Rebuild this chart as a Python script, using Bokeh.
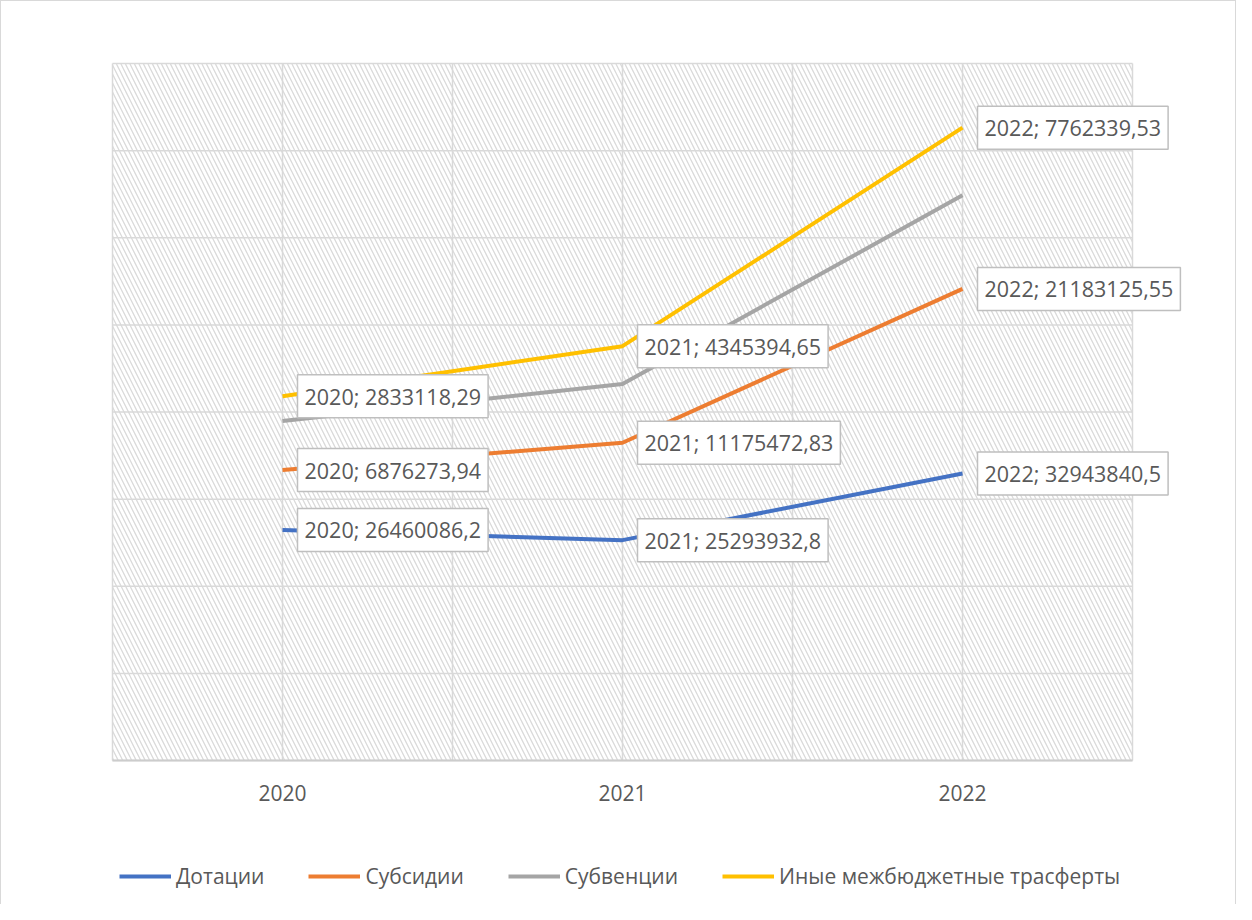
from bokeh.plotting import figure
from bokeh.models import (Range1d, Label, Legend, LegendItem, ColumnDataSource)
from bokeh.embed import file_html
from bokeh.resources import INLINE

years = ["2020", "2021", "2022"]
dotacii = [26460086.2, 25293932.8, 32943840.5]
subsidii = [6876273.94, 11175472.83, 21183125.55]
subvencii = [5630000.0, 6740000.0, 10750000.0]
inye = [2833118.29, 4345394.65, 7762339.53]
series_names = ["Дотации", "Субсидии", "Субвенции", "Иные межбюджетные трасферты"]
colors = ["#4472C4", "#ED7D31", "#A5A5A5", "#FFC000"]
labelled = [True, True, False, True]
y_ticks = [0, 10e6, 20e6, 30e6, 40e6, 50e6, 60e6, 70e6, 80e6]
x_grid = [-0.5, 0, 0.5, 1, 1.5, 2, 2.5]

FONT = "Open Sans"
TXT = "#595959"
GRID = "#d9d9d9"

W, H = 1236, 904
# plot area in canvas pixels
PL, PR, PT, PB = 111, 1131, 62, 759
XMIN, XMAX, YMIN, YMAX = -0.5, 2.5, 0.0, 80e6
xs_per_px = (XMAX - XMIN) / (PR - PL)
ys_per_px = (YMAX - YMIN) / (PB - PT)

p = figure(width=W, height=H, output_backend="svg", toolbar_location=None,
           x_range=Range1d(XMIN - PL * xs_per_px, XMAX + (W - PR) * xs_per_px),
           y_range=Range1d(YMIN - (H - PB) * ys_per_px, YMAX + PT * ys_per_px),
           min_border=0)
p.styles = {"border-top": "1px solid #d9d9d9", "border-left": "1px solid #d9d9d9",
            "border-right": "1px solid #d9d9d9"}
p.axis.visible = False
p.grid.visible = False
p.outline_line_color = None
p.background_fill_color = "white"
p.border_fill_color = "white"

# hatched plot area
p.quad(left=XMIN, right=XMAX, bottom=YMIN, top=YMAX, fill_color="white",
       line_color=None, hatch_pattern="\\", hatch_color="#dadada",
       hatch_scale=9, hatch_weight=1.3)

# grid lines
p.segment(x0=[XMIN] * len(y_ticks), x1=[XMAX] * len(y_ticks), y0=y_ticks, y1=y_ticks,
          line_color=GRID, line_width=1.5)
p.segment(x0=x_grid, x1=x_grid, y0=[YMIN] * len(x_grid), y1=[YMAX] * len(x_grid),
          line_color=GRID, line_width=1.5)
# axis line
p.segment(x0=[XMIN], x1=[XMAX], y0=[YMIN], y1=[YMIN], line_color="#cccccc", line_width=2)

xs = [0, 1, 2]
# category labels
p.text(x=xs, y=[YMIN] * 3, text=years, text_align="center", text_baseline="middle",
       y_offset=32, text_font_size="21px", text_color=TXT,
       text_font={"value": FONT})

all_series = [dotacii, subsidii, subvencii, inye]
cum = [0.0, 0.0, 0.0]
items = []
for vals, name, col, lab in zip(all_series, series_names, colors, labelled):
    cum = [c + v for c, v in zip(cum, vals)]
    src = ColumnDataSource(dict(x=xs, y=list(cum)))
    r = p.line("x", "y", source=src, line_color=col, line_width=4)
    items.append(LegendItem(label=name, renderers=[r]))
    if lab:
        for xi, yi, yr, v in zip(xs, cum, years, vals):
            txt = f"{yr}; " + repr(v).replace(".", ",")
            p.add_layout(Label(x=xi, y=yi, text=txt, x_offset=15, y_offset=0,
                               text_baseline="middle", text_align="left",
                               text_font=FONT, text_font_size="21.5px",
                               text_color=TXT, background_fill_color="white",
                               border_line_color="#bfbfbf", border_line_width=1.5,
                               padding=7))

leg = Legend(items=items, orientation="horizontal", location=(118, H - 876 - 13),
             label_text_font=FONT, label_text_font_size="21px",
             label_text_color=TXT, glyph_width=52, glyph_height=26,
             label_height=26, label_standoff=5, spacing=44, padding=0, margin=0,
             border_line_color=None, background_fill_alpha=0)
p.add_layout(leg, "center")

open("out.html", "w").write(file_html(p, INLINE))
